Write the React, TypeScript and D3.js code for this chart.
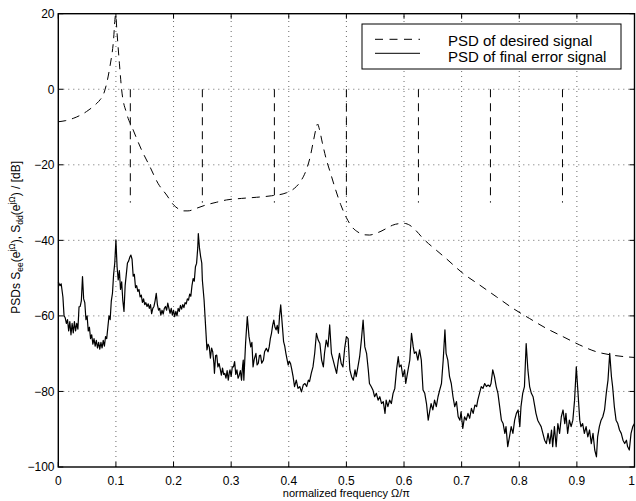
import React from 'react';
import * as d3 from 'd3';

const W = 636;
const H = 501;
const M = { left: 58.3, right: 634.5, top: 13.7, bottom: 467 };

const xTicks = [0, 0.1, 0.2, 0.3, 0.4, 0.5, 0.6, 0.7, 0.8, 0.9, 1];
const xTickLabels = ['0', '0.1', '0.2', '0.3', '0.4', '0.5', '0.6', '0.7', '0.8', '0.9', '1'];
const yTicks = [-100, -80, -60, -40, -20, 0, 20];
const yTickLabels = ['\u2212100', '\u221280', '\u221260', '\u221240', '\u221220', '0', '20'];

const legendLabels = ['PSD of desired signal', 'PSD of final error signal'];

// PSD of desired signal (dashed curve)
const desiredF = [0, 0.013, 0.026, 0.038, 0.049, 0.058, 0.067, 0.073, 0.078, 0.084, 0.0896, 0.0954, 0.0995, 0.102, 0.106, 0.11, 0.1186, 0.13, 0.1446, 0.159, 0.173, 0.188, 0.2, 0.21, 0.217, 0.225, 0.24, 0.257, 0.275, 0.292, 0.318, 0.344, 0.37, 0.396, 0.41, 0.42, 0.43, 0.437, 0.443, 0.448, 0.45, 0.453, 0.458, 0.465, 0.472, 0.48, 0.49, 0.5, 0.51, 0.52, 0.53, 0.54, 0.55, 0.56, 0.57, 0.58, 0.59, 0.6, 0.61, 0.62, 0.633, 0.656, 0.673, 0.702, 0.731, 0.76, 0.789, 0.818, 0.847, 0.876, 0.905, 0.934, 0.962, 1.0];
const desiredDb = [-8.6, -8.3, -7.7, -6.9, -5.9, -4.9, -3.7, -2.7, -1.5, 1.6, 6, 12.2, 19.7, 14.8, 6.9, -0.2, -6.4, -10.8, -16.1, -20.5, -24.9, -28, -30.6, -31.8, -32.2, -32.2, -31.5, -30.6, -29.9, -29.3, -28.9, -28.6, -28.2, -27.4, -26.2, -24.5, -21.5, -18, -13.5, -10, -9.2, -10.5, -14, -18.5, -22, -26, -30.5, -34, -36.5, -37.8, -38.5, -38.6, -38.2, -37.6, -36.8, -36, -35.6, -35.5, -36, -37.3, -39.5, -42.6, -44.8, -48.7, -51.8, -54.9, -58, -60.7, -63.3, -65.5, -67.7, -69.5, -70.4, -71];

// spectral lines of desired signal (vertical dashed)
const lineFreqs = [0.125, 0.25, 0.375, 0.5, 0.625, 0.75, 0.875];
const lineTopDb = 0;
const lineBottomDb = -30;

// PSD of final error signal (solid)
const errorF = [
  0, 0.003, 0.005, 0.008, 0.01, 0.012, 0.014, 0.016, 0.018, 0.02, 0.022, 0.024, 0.026, 0.028, 0.03, 0.032, 0.034, 0.036, 0.038, 0.04,
  0.042, 0.044, 0.046, 0.048, 0.05, 0.052, 0.054, 0.056, 0.058, 0.06, 0.062, 0.064, 0.066, 0.068, 0.07, 0.072, 0.074, 0.076, 0.078, 0.08,
  0.082, 0.084, 0.086, 0.088, 0.09, 0.092, 0.094, 0.096, 0.098, 0.1, 0.102, 0.104, 0.106, 0.108, 0.11, 0.112, 0.114, 0.116, 0.118, 0.12,
  0.122, 0.124, 0.126, 0.128, 0.13, 0.132, 0.134, 0.136, 0.138, 0.14, 0.142, 0.144, 0.146, 0.148, 0.15, 0.152, 0.154, 0.156, 0.158, 0.16,
  0.162, 0.164, 0.166, 0.168, 0.17, 0.172, 0.174, 0.176, 0.178, 0.18, 0.182, 0.184, 0.186, 0.188, 0.19, 0.192, 0.194, 0.196, 0.198, 0.2,
  0.202, 0.204, 0.206, 0.208, 0.21, 0.212, 0.214, 0.216, 0.218, 0.22, 0.222, 0.224, 0.226, 0.228, 0.23, 0.232, 0.234, 0.236, 0.238, 0.24,
  0.242, 0.243, 0.245, 0.247, 0.249, 0.25, 0.253, 0.256, 0.258, 0.26, 0.262, 0.264, 0.266, 0.268, 0.27, 0.271, 0.273, 0.275, 0.277, 0.279,
  0.281, 0.283, 0.285, 0.287, 0.289, 0.291, 0.293, 0.295, 0.297, 0.298, 0.3, 0.302, 0.304, 0.306, 0.308, 0.31, 0.312, 0.314, 0.316, 0.318,
  0.32, 0.321, 0.322, 0.325, 0.328, 0.331, 0.334, 0.336, 0.338, 0.34, 0.343, 0.345, 0.347, 0.349, 0.351, 0.353, 0.356, 0.358, 0.361, 0.364,
  0.366, 0.368, 0.37, 0.372, 0.374, 0.376, 0.378, 0.38, 0.382, 0.384, 0.386, 0.389, 0.391, 0.393, 0.395, 0.397, 0.399, 0.401, 0.403, 0.405,
  0.4075, 0.41, 0.413, 0.416, 0.419, 0.422, 0.425, 0.428, 0.431, 0.434, 0.436, 0.439, 0.442, 0.445, 0.448, 0.451, 0.454, 0.457, 0.46, 0.462,
  0.465, 0.468, 0.471, 0.474, 0.477, 0.48, 0.483, 0.486, 0.488, 0.491, 0.494, 0.497, 0.5, 0.503, 0.506, 0.509, 0.512, 0.515, 0.517, 0.52,
  0.523, 0.526, 0.529, 0.532, 0.535, 0.538, 0.54, 0.543, 0.546, 0.549, 0.552, 0.555, 0.558, 0.561, 0.564, 0.567, 0.569, 0.572, 0.575, 0.578,
  0.581, 0.584, 0.587, 0.59, 0.592, 0.595, 0.598, 0.601, 0.603, 0.607, 0.61, 0.613, 0.616, 0.618, 0.621, 0.624, 0.627, 0.63, 0.633, 0.636,
  0.639, 0.642, 0.645, 0.647, 0.65, 0.653, 0.656, 0.659, 0.662, 0.665, 0.668, 0.671, 0.673, 0.676, 0.679, 0.682, 0.685, 0.688, 0.691, 0.694,
  0.697, 0.699, 0.702, 0.705, 0.708, 0.711, 0.714, 0.717, 0.72, 0.723, 0.726, 0.728, 0.731, 0.734, 0.737, 0.74, 0.743, 0.746, 0.749, 0.751,
  0.754, 0.757, 0.76, 0.763, 0.766, 0.769, 0.772, 0.775, 0.777, 0.78, 0.783, 0.786, 0.789, 0.792, 0.795, 0.798, 0.801, 0.803, 0.806, 0.809,
  0.812, 0.815, 0.818, 0.821, 0.824, 0.827, 0.829, 0.832, 0.835, 0.838, 0.841, 0.844, 0.847, 0.85, 0.853, 0.856, 0.858, 0.861, 0.864, 0.867,
  0.87, 0.873, 0.876, 0.879, 0.881, 0.884, 0.887, 0.89, 0.893, 0.896, 0.899, 0.902, 0.905, 0.907, 0.91, 0.913, 0.916, 0.919, 0.922, 0.925,
  0.928, 0.931, 0.934, 0.936, 0.939, 0.942, 0.945, 0.948, 0.951, 0.954, 0.957, 0.96, 0.962, 0.965, 0.968, 0.971, 0.974, 0.977, 0.98, 0.983,
  0.986, 0.988, 0.991, 0.994, 0.997, 1.0,
];
const errorDb = [
  -51, -52, -51.5, -55, -60, -60.5, -62, -61, -64, -61.5, -65, -62, -64.5, -61.5, -64, -62, -63.5, -57.6, -57.5, -56,
  -49.6, -55.5, -56.5, -61, -60, -64, -63, -66, -65, -67.5, -66, -68, -66.5, -68.5, -67, -68.8, -67, -68.5, -66.5, -68,
  -65.5, -66, -63, -60, -61, -56, -54, -49, -46, -39.9, -47, -50.5, -48, -53, -51, -56, -58.8, -52, -49, -46,
  -45.5, -44.5, -43.9, -45, -49.5, -49, -52.5, -52, -53.5, -53, -55, -54.5, -56.4, -55.5, -57, -56.5, -57.5, -56.8, -58, -57,
  -59.4, -58, -57.5, -56, -54, -57, -58.5, -58, -59.8, -58.5, -59.5, -58, -57.5, -58.5, -56.6, -58, -59.3, -58, -59.8, -58.5,
  -60.2, -58.8, -60, -58, -58.8, -57.2, -58.2, -57, -57.8, -56.5, -56.8, -55.5, -55.8, -54.2, -54.8, -52, -50.1, -50.8, -47, -46.1,
  -42, -38.2, -42, -44.3, -46, -50.5, -55.8, -63.7, -69, -67.5, -68.2, -71.2, -68.5, -69.5, -72.5, -75.2, -70.5, -70.4, -73.5, -72.6,
  -74, -75.7, -73.8, -75.5, -75.2, -76.5, -74.5, -77, -74.8, -74.3, -76, -73.5, -73.5, -72.1, -75.5, -74.3, -76.5, -75.7, -74.5, -77,
  -73, -71.7, -77, -67.3, -60.2, -65.5, -68.2, -67, -73.5, -71.5, -69.9, -73, -72.6, -70.5, -70.4, -72.5, -71.7, -69.5, -68.6, -69.5,
  -68.2, -66, -64.6, -62.5, -61.1, -63, -63.7, -62.5, -64.6, -60, -57.1, -62.9, -66.8, -68, -69.9, -71.5, -73, -72, -72.6, -74,
  -76.1, -78.7, -77, -79.2, -78.7, -80.1, -78.3, -77.9, -78.7, -77, -77.4, -75.2, -73.5, -69.9, -64.6, -66.4, -67.3, -71.7, -73.5, -69.9,
  -66.4, -68.2, -62.4, -69.9, -71.7, -73.5, -75.2, -71.7, -69.9, -72.6, -73.5, -68.6, -65.5, -66, -74.3, -76.1, -77, -74.3, -76.1, -73.5,
  -70.8, -66.4, -61.1, -68.2, -69.9, -74.3, -77.9, -78.7, -79.6, -81.4, -80.5, -82.3, -81.4, -83.2, -82.7, -85.8, -82.3, -84, -82.3, -83.2,
  -80.5, -79.2, -74.3, -70.8, -73.5, -73, -76.1, -74.3, -77.9, -74.3, -71.7, -64.6, -68.2, -69.9, -69.5, -71.7, -69, -71.7, -79.6, -80.5,
  -83.2, -87.6, -84.9, -83.2, -84.9, -82.3, -84, -81.4, -79.6, -77.9, -71.7, -63.7, -69.9, -71.7, -76.1, -77.9, -81.4, -84, -82.7, -86.7,
  -87.6, -85.4, -89.8, -86.7, -87.6, -85.8, -87.1, -84.5, -85.8, -83.6, -84, -82.3, -80.5, -78.7, -79.2, -77.9, -78.7, -78.3, -78.7, -77.9,
  -74.3, -76.1, -78.7, -80.5, -84, -87.6, -88.5, -91.1, -89.3, -94.6, -92, -89.3, -91.1, -87.6, -85.8, -84.9, -89.3, -84, -80.5, -78.7,
  -67.3, -74.3, -78.7, -80.5, -81.4, -84, -85.8, -87.6, -88.5, -89.3, -91.1, -92.9, -93.8, -91.1, -93.8, -90.2, -94.6, -89.3, -94.6, -88.5,
  -91.1, -86.7, -84.9, -88.5, -85.8, -91.1, -87.6, -89.3, -87.6, -82.3, -73.5, -80.5, -87.6, -89.3, -88.5, -91.1, -89.3, -92, -90.2, -93.8,
  -91.1, -95.5, -97.3, -92, -89.3, -87.6, -86.7, -84.9, -80.5, -77, -69.9, -76.1, -78.7, -84, -87.6, -88.5, -90.2, -91.1, -92.9, -93.8,
  -92.9, -94.6, -95.5, -91.1, -89.3, -88.5,
];

const FONT = 'Liberation Sans, Arial, Helvetica, sans-serif';

export default function App() {
  const x = d3.scaleLinear().domain([0, 1]).range([M.left, M.right]);
  const y = d3.scaleLinear().domain([-100, 20]).range([M.bottom, M.top]);

  const desiredPath = d3
    .line<number>()
    .x((_, i) => x(desiredF[i]))
    .y((d) => y(d))
    .curve(d3.curveMonotoneX)(desiredDb) as string;

  const errorPath = d3
    .line<number>()
    .x((_, i) => x(errorF[i]))
    .y((d) => y(d))(errorDb) as string;

  const tickLen = 5;
  const gridDash = '1,4';

  const legX = 362, legY = 24, legW = 259, legH = 45;

  return (
    <svg
      width={W}
      height={H}
      style={{ position: 'absolute', left: 0, top: 0, background: '#fff' }}
      fontFamily={FONT}
    >
      <rect x={0} y={0} width={W} height={H} fill="#fff" />
      {/* grid */}
      <g stroke="#444" strokeWidth={0.8} strokeDasharray={gridDash}>
        {xTicks.slice(1, -1).map((t) => (
          <line key={'gx' + t} x1={x(t)} x2={x(t)} y1={M.bottom} y2={M.top} />
        ))}
        {yTicks.slice(1, -1).map((t) => (
          <line key={'gy' + t} x1={M.left} x2={M.right} y1={y(t)} y2={y(t)} />
        ))}
      </g>

      {/* data */}
      <path d={errorPath} fill="none" stroke="#000" strokeWidth={1.2} strokeLinejoin="round" />
      <path d={desiredPath} fill="none" stroke="#000" strokeWidth={1} strokeDasharray="8,6" />
      {lineFreqs.map((f) => (
        <line
          key={'sl' + f}
          x1={x(f)}
          x2={x(f)}
          y1={y(lineTopDb)}
          y2={y(lineBottomDb)}
          stroke="#000"
          strokeWidth={1}
          strokeDasharray="8,6"
        />
      ))}

      {/* axes box */}
      <rect
        x={M.left}
        y={M.top}
        width={M.right - M.left}
        height={M.bottom - M.top}
        fill="none"
        stroke="#000"
        strokeWidth={1.4}
      />
      {/* ticks */}
      <g stroke="#000" strokeWidth={1}>
        {xTicks.map((t) => (
          <g key={'tx' + t}>
            <line x1={x(t)} x2={x(t)} y1={M.bottom} y2={M.bottom - tickLen} />
            <line x1={x(t)} x2={x(t)} y1={M.top} y2={M.top + tickLen} />
          </g>
        ))}
        {yTicks.map((t) => (
          <g key={'ty' + t}>
            <line x1={M.left} x2={M.left + tickLen} y1={y(t)} y2={y(t)} />
            <line x1={M.right} x2={M.right - tickLen} y1={y(t)} y2={y(t)} />
          </g>
        ))}
      </g>
      {/* tick labels */}
      <g fontSize={12} fill="#000">
        {xTicks.map((t, i) => (
          <text key={'lx' + t} x={Math.min(x(t), 631.5)} y={484.5} textAnchor="middle">
            {xTickLabels[i]}
          </text>
        ))}
        {yTicks.map((t, i) => (
          <text key={'ly' + t} x={54.5} y={y(t) + 4.3} textAnchor="end">
            {yTickLabels[i]}
          </text>
        ))}
      </g>

      {/* x label */}
      <text x={(M.left + M.right) / 2} y={497} textAnchor="middle" fontSize={11}>
        normalized frequency Ω/π
      </text>

      {/* y label */}
      <text transform={`translate(19.5,${(M.top + M.bottom) / 2 - 3}) rotate(-90)`} textAnchor="middle" fontSize={12}>
        <tspan>PSDs  S</tspan>
        <tspan fontSize={8.5} dy={3}>ee</tspan>
        <tspan dy={-3}>(e</tspan>
        <tspan fontSize={8.5} dy={-5}>jΩ</tspan>
        <tspan dy={5}>), S</tspan>
        <tspan fontSize={8.5} dy={3}>dd</tspan>
        <tspan dy={-3}>(e</tspan>
        <tspan fontSize={8.5} dy={-5}>jΩ</tspan>
        <tspan dy={5}>) / [dB]</tspan>
      </text>

      {/* legend */}
      <rect x={legX} y={legY} width={legW} height={legH} fill="#fff" stroke="#000" strokeWidth={1} />
      <line x1={375} x2={420} y1={39.3} y2={39.3} stroke="#000" strokeWidth={1} strokeDasharray="8,6.5" />
      <line x1={375} x2={420} y1={53.3} y2={53.3} stroke="#000" strokeWidth={1} />
      <text x={448} y={46} fontSize={15}>
        {legendLabels[0]}
      </text>
      <text x={448} y={61.5} fontSize={15}>
        {legendLabels[1]}
      </text>
    </svg>
  );
}
